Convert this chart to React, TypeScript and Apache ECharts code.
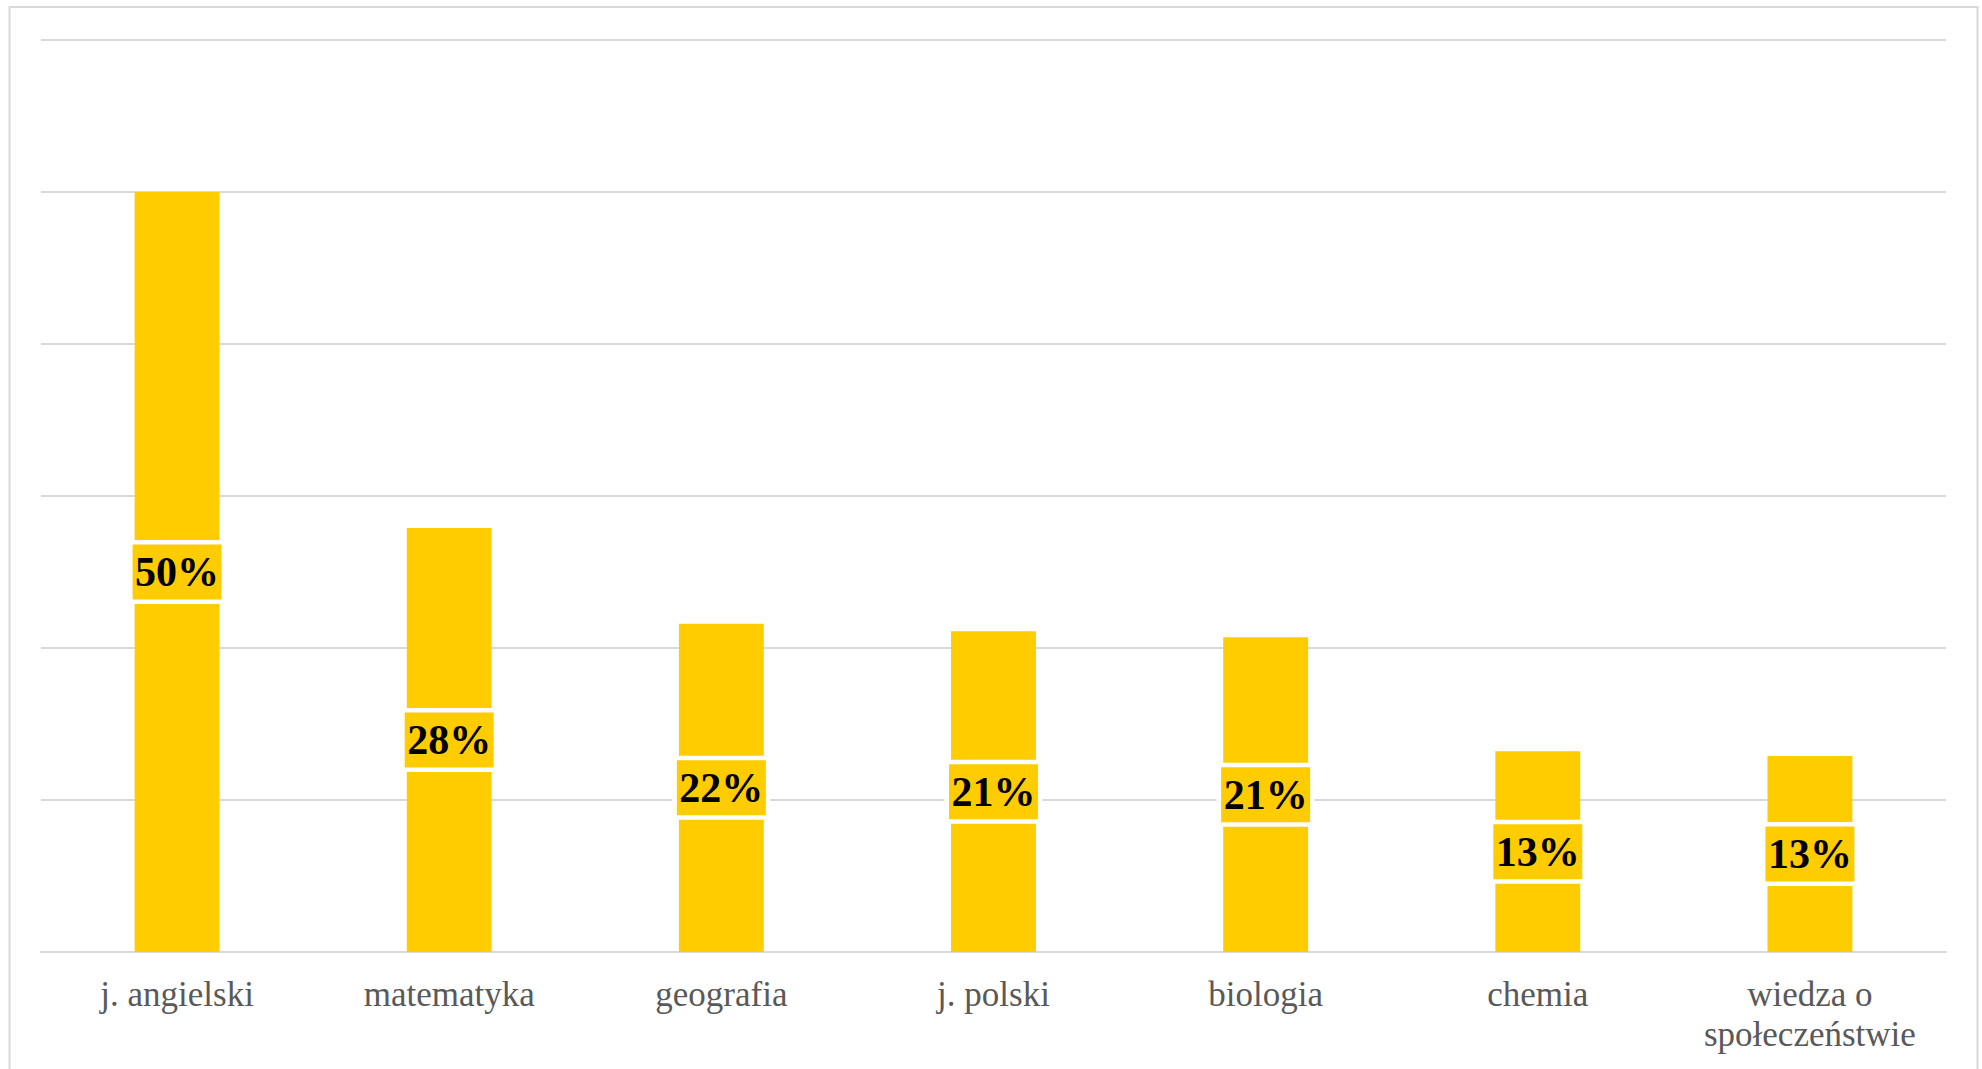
import React, { useEffect, useRef } from "react";
import * as echarts from "echarts";

const categories = [
  "j. angielski",
  "matematyka",
  "geografia",
  "j. polski",
  "biologia",
  "chemia",
  "wiedza o\nspołeczeństwie",
];
const values = [0.5, 0.279, 0.216, 0.211, 0.207, 0.132, 0.129];
const valueLabels = ["50%", "28%", "22%", "21%", "21%", "13%", "13%"];
const axisMax = 0.6;
const axisInterval = 0.1;

export default function App() {
  const ref = useRef<HTMLDivElement>(null);
  useEffect(() => {
    if (!ref.current) return;
    const chart = echarts.init(ref.current, undefined, { renderer: "svg" });
    chart.setOption({
      animation: false,
      backgroundColor: "#ffffff",
      graphic: [
        {
          type: "rect",
          shape: { x: 9.5, y: 7, width: 1968, height: 1100 },
          style: { fill: "none", stroke: "#D9D9D9", lineWidth: 2 },
          silent: true,
        },
      ],
      grid: { left: 41, right: 36, top: 40, bottom: 117, containLabel: false },
      xAxis: {
        type: "category",
        data: categories,
        axisLine: { show: true, lineStyle: { color: "#D9D9D9", width: 2 } },
        axisTick: { show: false },
        axisLabel: {
          color: "#595959",
          fontFamily: "Liberation Serif",
          fontSize: 35,
          lineHeight: 40,
          margin: 22,
          interval: 0,
        },
      },
      yAxis: {
        type: "value",
        min: 0,
        max: axisMax,
        interval: axisInterval,
        axisLabel: { show: false },
        axisLine: { show: false },
        axisTick: { show: false },
        splitLine: { lineStyle: { color: "#D9D9D9", width: 2 } },
      },
      series: [
        {
          type: "bar",
          data: values,
          barWidth: "31.2%",
          itemStyle: { color: "#FFCC00" },
          label: {
            show: true,
            position: "inside",
            formatter: (p: any) => valueLabels[p.dataIndex],
            fontFamily: "Liberation Serif",
            fontWeight: "bold",
            fontSize: 42,
            color: "#000000",
            backgroundColor: "#FFCC00",
            borderColor: "#ffffff",
            borderWidth: 4.5,
            width: 89,
            height: 55,
            lineHeight: 55,
            align: "center",
            verticalAlign: "middle",
            padding: 0,
          },
        },
      ],
    });
    return () => chart.dispose();
  }, []);
  return (
    <div
      ref={ref}
      style={{ position: "fixed", left: 0, top: 0, width: 1982, height: 1069 }}
    />
  );
}
